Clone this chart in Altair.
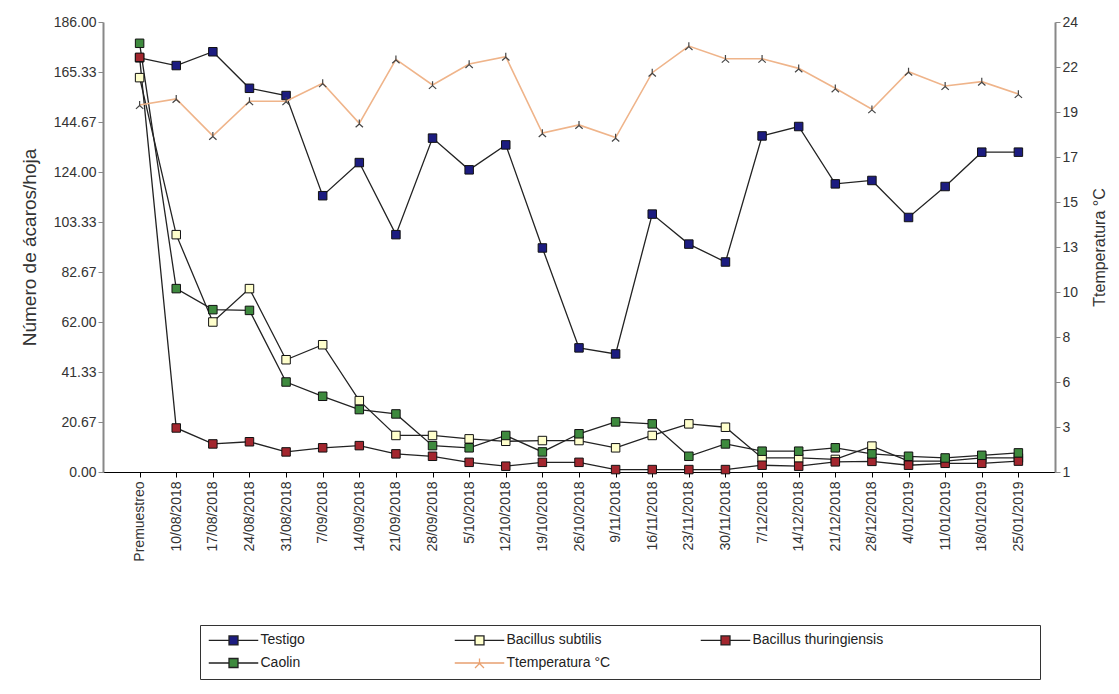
import altair as alt
import pandas as pd

fechas = ["Premuestreo", "10/08/2018", "17/08/2018", "24/08/2018", "31/08/2018",
          "7/09/2018", "14/09/2018", "21/09/2018", "28/09/2018", "5/10/2018",
          "12/10/2018", "19/10/2018", "26/10/2018", "9/11/2018", "16/11/2018",
          "23/11/2018", "30/11/2018", "7/12/2018", "14/12/2018", "21/12/2018",
          "28/12/2018", "4/01/2019", "11/01/2019", "18/01/2019", "25/01/2019"]

testigo = [171.2, 168.0, 173.7, 158.6, 155.6, 114.2, 127.9, 98.1, 138.0, 124.9,
           135.2, 92.6, 51.3, 48.8, 106.6, 94.2, 86.8, 138.9, 142.8, 119.1,
           120.5, 105.2, 118.0, 132.2, 132.2]
subtilis = [163.0, 98.1, 62.0, 75.8, 46.4, 52.6, 29.5, 15.1, 15.1, 13.7,
            12.7, 13.0, 13.0, 10.0, 15.1, 19.9, 18.5, 5.8, 5.8, 5.2,
            10.7, 4.5, 4.5, 5.8, 5.8]
thuringiensis = [171.4, 18.2, 11.6, 12.5, 8.3, 10.0, 10.9, 7.5, 6.5, 4.0,
                 2.4, 4.0, 4.0, 1.0, 1.0, 1.0, 1.0, 2.8, 2.4, 4.2,
                 4.4, 2.8, 3.6, 3.6, 4.5]
caolin = [177.2, 75.8, 67.1, 66.8, 37.2, 31.3, 25.8, 24.0, 10.9, 10.0,
          15.1, 8.3, 15.8, 20.7, 19.9, 6.5, 11.6, 8.6, 8.6, 10.0,
          7.5, 6.5, 5.8, 6.9, 7.9]
temperatura = [19.76, 20.07, 18.18, 19.95, 19.95, 20.87, 18.82, 22.09, 20.78, 21.85,
               22.23, 18.32, 18.74, 18.09, 21.41, 22.77, 22.12, 22.12, 21.63, 20.61,
               19.54, 21.46, 20.73, 20.95, 20.32]

series = ["Testigo", "Bacillus subtilis", "Bacillus thuringiensis", "Caolin", "Ttemperatura °C"]
colores = ["#1c1c80", "#ffffcc", "#a3262e", "#3e8a3e", "#f0b080"]
trazos = ["#222222", "#222222", "#222222", "#222222", "#e8a070"]

left_ticks = [186 * i / 9 for i in range(10)]
right_ticks = [1 + 23 * i / 10 for i in range(11)]

rows = []
for nombre, vals in [("Testigo", testigo), ("Bacillus subtilis", subtilis),
                     ("Bacillus thuringiensis", thuringiensis), ("Caolin", caolin)]:
    for f, v in zip(fechas, vals):
        rows.append({"fecha": f, "serie": nombre, "valor": v})
df = pd.DataFrame(rows)
dft = pd.DataFrame({"fecha": fechas, "serie": "Ttemperatura °C", "temp": temperatura})

FONT = "Liberation Sans"

xenc = alt.X("fecha:N", sort=fechas, scale=alt.Scale(type="point", padding=1),
             axis=alt.Axis(title=None, labelAngle=270, labelFontSize=14, labelColor="#333",
                           labelFont=FONT, domainColor="#000", domainWidth=1,
                           tickColor="#000", tickSize=5, labelPadding=4, grid=False))

yleft = alt.Y("valor:Q", scale=alt.Scale(domain=[0, 186], nice=False, zero=False),
              axis=alt.Axis(values=left_ticks, format=".2f", title="Número de ácaros/hoja",
                            titleFontWeight="normal", titleFontSize=19, titleColor="#333",
                            titleFont=FONT, titlePadding=14,
                            labelFontSize=14, labelColor="#333", labelFont=FONT,
                            domainColor="#888", domainWidth=2, tickColor="#888",
                            tickSize=5, labelPadding=2, grid=False))

yright = alt.Y("temp:Q", scale=alt.Scale(domain=[1, 24], nice=False, zero=False),
               axis=alt.Axis(orient="right", values=right_ticks,
                             labelExpr="format(round(datum.value), 'd')",
                             title="Ttemperatura °C", titleAngle=270,
                             titleFontWeight="normal", titleFontSize=16, titleColor="#333",
                             titleFont=FONT, titlePadding=30,
                             labelFontSize=14, labelColor="#333", labelFont=FONT,
                             domainColor="#888", domainWidth=2, tickColor="#888",
                             tickSize=5, labelPadding=2, grid=False))

sq_path = "M-5.5,0L-1,0M1,0L5.5,0M-1,-1L1,-1L1,1L-1,1Z"
tri_leg = "M-5.5,0L5.5,0M0,-1L0,0.1M0,0.1L-1,1.1M0,0.1L1,1.1"
formas = [sq_path, sq_path, sq_path, sq_path, tri_leg]

legend = alt.Legend(
    title=" ", titleOrient="right", titlePadding=149,
    orient="none", legendX=97, legendY=603, columns=3, direction="horizontal",
    gridAlign="all", columnPadding=60, rowPadding=7, padding=8,
    strokeColor="#333", fillColor="white",
    symbolSize=81, symbolOffset=18.5, labelOffset=20, symbolStrokeWidth=1.3,
    symbolOpacity=1,
    labelFontSize=14, labelFont=FONT, labelColor="#222", labelLimit=300,
)

fill_enc = alt.Fill("serie:N", scale=alt.Scale(domain=series, range=colores), legend=legend)

mite_lines = alt.Chart(df).mark_line(color="#222", strokeWidth=1.3).encode(
    x=xenc, y=yleft, detail="serie:N")

mite_pts = alt.Chart(df).mark_point(shape="square", filled=True, size=72,
                                    stroke="#111", strokeWidth=1, opacity=1).encode(
    x=xenc, y=yleft, fill=fill_enc)

# empty layer that only carries the legend's symbol shapes and stroke colours
legend_layer = alt.Chart(df).transform_filter("false").mark_point(
    filled=True, strokeWidth=1.3, opacity=1).encode(
    x=xenc, y=yleft, fill=fill_enc,
    shape=alt.Shape("serie:N", scale=alt.Scale(domain=series, range=formas), legend=legend),
    stroke=alt.Stroke("serie:N", scale=alt.Scale(domain=series, range=trazos), legend=legend))

tri_path = "M0,-1L0,0.15M0,0.15L-0.95,1M0,0.15L0.95,1"
temp_line = alt.Chart(dft).mark_line(color="#efb48a", strokeWidth=1.6).encode(x=xenc, y=yright)
temp_pts = alt.Chart(dft).mark_point(shape=tri_path, filled=False, size=60,
                                     stroke="#444", strokeWidth=1.2, opacity=1).encode(
    x=xenc, y=yright)

chart = alt.layer(
    alt.layer(legend_layer, mite_lines, mite_pts),
    alt.layer(temp_line, temp_pts),
).resolve_scale(y="independent").properties(
    width=952, height=450,
    autosize=alt.AutoSizeParams(type="none"),
    padding={"left": 103, "top": 22, "right": 64, "bottom": 222},
    background="white",
).configure_view(stroke=None)

chart.save("out.html", embed_options={"renderer": "svg", "actions": False})
